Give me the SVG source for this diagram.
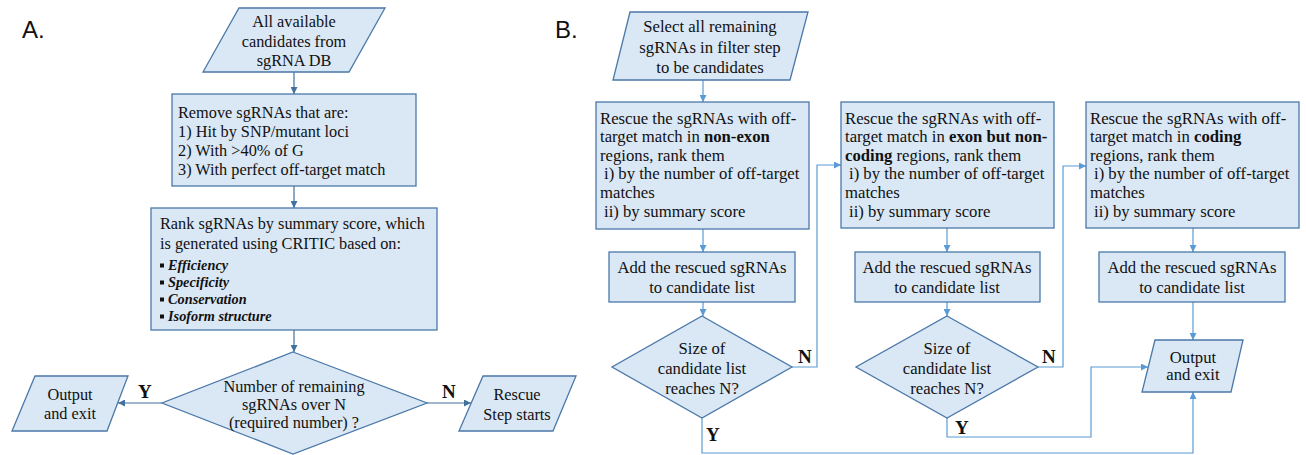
<svg xmlns="http://www.w3.org/2000/svg" width="1306" height="455" viewBox="0 0 1306 455">
<style>
.bx{fill:#dae7f5;stroke:#4a78a8;stroke-width:1.3}
.t{font-family:"Liberation Serif","Times New Roman",serif;font-size:16.3px;fill:#111}
.tb{font-family:"Liberation Serif","Times New Roman",serif;font-size:16.7px;fill:#111}
.c{text-anchor:middle}
.bi{font-family:"Liberation Serif","Times New Roman",serif;font-size:14.3px;font-weight:bold;font-style:italic;fill:#111}
.lb{font-family:"Liberation Serif","Times New Roman",serif;font-size:19px;font-weight:bold;fill:#111}
.pl{font-family:"Liberation Sans",Arial,sans-serif;font-size:24px;fill:#111}
.ca{fill:none;stroke:#41719c;stroke-width:1.2}
.cb{fill:none;stroke:#5b9bd5;stroke-width:1.2}
</style>
<defs>
<marker id="ma" viewBox="0 0 10 10" refX="10" refY="5" markerWidth="7" markerHeight="7" markerUnits="userSpaceOnUse" orient="auto"><path d="M0,0L10,5L0,10z" fill="#41719c"/></marker>
<marker id="mb" viewBox="0 0 10 10" refX="10" refY="5" markerWidth="7" markerHeight="7" markerUnits="userSpaceOnUse" orient="auto"><path d="M0,0L10,5L0,10z" fill="#5b9bd5"/></marker>
</defs>
<text class="pl" x="22" y="38">A.</text>
<text class="pl" x="555" y="38">B.</text>
<g id="connectors">
<path class="ca" d="M294,72V94" marker-end="url(#ma)"/>
<path class="ca" d="M294,186V208" marker-end="url(#ma)"/>
<path class="ca" d="M294,330V352" marker-end="url(#ma)"/>
<path class="ca" d="M162,403H118" marker-end="url(#ma)"/>
<path class="ca" d="M427,403H471" marker-end="url(#ma)"/>
<path class="cb" d="M703,80V102" marker-end="url(#mb)"/>
<path class="cb" d="M703,229V252" marker-end="url(#mb)"/>
<path class="cb" d="M703,302V316" marker-end="url(#mb)"/>
<path class="cb" d="M792,367H817V165H841" marker-end="url(#mb)"/>
<path class="cb" d="M702,418V453H1193V392" marker-end="url(#mb)"/>
<path class="cb" d="M947,228V252" marker-end="url(#mb)"/>
<path class="cb" d="M947,302V316" marker-end="url(#mb)"/>
<path class="cb" d="M1038,367H1063V166H1086" marker-end="url(#mb)"/>
<path class="cb" d="M947,418V437H1091V367H1148" marker-end="url(#mb)"/>
<path class="cb" d="M1193,228V252" marker-end="url(#mb)"/>
<path class="cb" d="M1193,302V340" marker-end="url(#mb)"/>
</g>
<g id="a-start">
<polygon class="bx" points="239,8 385,8 349,72 203,72"/>
<text class="t c" x="294" y="27">All available</text>
<text class="t c" x="294" y="46.5">candidates from</text>
<text class="t c" x="294" y="66">sgRNA DB</text>
</g>
<g id="a-remove">
<rect class="bx" x="172" y="94" width="244" height="92"/>
<text class="t" x="178" y="118">Remove sgRNAs that are:</text>
<text class="t" x="178" y="137">1) Hit by SNP/mutant loci</text>
<text class="t" x="178" y="156">2) With &gt;40% of G</text>
<text class="t" x="178" y="175">3) With perfect off-target match</text>
</g>
<g id="a-rank">
<rect class="bx" x="151" y="208" width="286" height="122"/>
<text class="t" x="160" y="229">Rank sgRNAs by summary score, which</text>
<text class="t" x="160" y="249">is generated using CRITIC based on:</text>
<rect x="160" y="263.5" width="4" height="4" fill="#111"/>
<rect x="160" y="280.5" width="4" height="4" fill="#111"/>
<rect x="160" y="297.5" width="4" height="4" fill="#111"/>
<rect x="160" y="314.5" width="4" height="4" fill="#111"/>
<text class="bi" x="168" y="270">Efficiency</text>
<text class="bi" x="168" y="287">Specificity</text>
<text class="bi" x="168" y="304">Conservation</text>
<text class="bi" x="168" y="321">Isoform structure</text>
</g>
<g id="a-decision">
<polygon class="bx" points="293,352 427,403 293,454 162,403"/>
<text class="t c" x="294" y="392">Number of remaining</text>
<text class="t c" x="294" y="410">sgRNAs over N</text>
<text class="t c" x="294" y="428">(required number) ?</text>
</g>
<text class="lb" x="138" y="398">Y</text>
<text class="lb" x="442" y="398">N</text>
<g id="a-output">
<polygon class="bx" points="35,376 128,376 107,431 12,431"/>
<text class="t c" x="70" y="400">Output</text>
<text class="t c" x="70" y="419">and exit</text>
</g>
<g id="a-rescue">
<polygon class="bx" points="483,376 576,376 553,431 459,431"/>
<text class="t c" x="517" y="399.5">Rescue</text>
<text class="t c" x="517" y="419.5">Step starts</text>
</g>
<g id="b-start">
<polygon class="bx" points="630,12 808,12 790,80 613,80"/>
<text class="tb c" x="710" y="32">Select all remaining</text>
<text class="tb c" x="710" y="53">sgRNAs in filter step</text>
<text class="tb c" x="710" y="73">to be candidates</text>
</g>
<g id="b-rescue1">
<rect class="bx" x="596" y="102" width="213" height="127"/>
<text class="tb" x="600" y="123.5">Rescue the sgRNAs with off-</text>
<text class="tb" x="600" y="142.1">target match in <tspan font-weight="bold">non-exon</tspan></text>
<text class="tb" x="600" y="160.7">regions, rank them</text>
<text class="tb" x="604" y="179.3">i) by the number of off-target</text>
<text class="tb" x="600" y="197.9">matches</text>
<text class="tb" x="604" y="216.5">ii) by summary score</text>
</g>
<g id="b-rescue2">
<rect class="bx" x="841" y="102" width="213" height="126"/>
<text class="tb" x="845" y="123.5">Rescue the sgRNAs with off-</text>
<text class="tb" x="845" y="142.1">target match in <tspan font-weight="bold">exon but non-</tspan></text>
<text class="tb" x="845" y="160.7"><tspan font-weight="bold">coding</tspan> regions, rank them</text>
<text class="tb" x="849" y="179.3">i) by the number of off-target</text>
<text class="tb" x="845" y="197.9">matches</text>
<text class="tb" x="849" y="216.5">ii) by summary score</text>
</g>
<g id="b-rescue3">
<rect class="bx" x="1086" y="102" width="213" height="126"/>
<text class="tb" x="1090" y="123.5">Rescue the sgRNAs with off-</text>
<text class="tb" x="1090" y="142.1">target match in <tspan font-weight="bold">coding</tspan></text>
<text class="tb" x="1090" y="160.7">regions, rank them</text>
<text class="tb" x="1094" y="179.3">i) by the number of off-target</text>
<text class="tb" x="1090" y="197.9">matches</text>
<text class="tb" x="1094" y="216.5">ii) by summary score</text>
</g>
<g id="b-add1">
<rect class="bx" x="609" y="252" width="186" height="50"/>
<text class="tb c" x="702" y="272.5">Add the rescued sgRNAs</text>
<text class="tb c" x="702" y="292.5">to candidate list</text>
</g>
<g id="b-add2">
<rect class="bx" x="855" y="252" width="185" height="50"/>
<text class="tb c" x="947" y="272.5">Add the rescued sgRNAs</text>
<text class="tb c" x="947" y="292.5">to candidate list</text>
</g>
<g id="b-add3">
<rect class="bx" x="1099" y="252" width="186" height="50"/>
<text class="tb c" x="1192" y="272.5">Add the rescued sgRNAs</text>
<text class="tb c" x="1192" y="292.5">to candidate list</text>
</g>
<g id="b-decision1">
<polygon class="bx" points="702,316 792,367 702,418 612,367"/>
<text class="tb c" x="702" y="353.5">Size of</text>
<text class="tb c" x="702" y="373.5">candidate list</text>
<text class="tb c" x="702" y="393.5">reaches N?</text>
</g>
<g id="b-decision2">
<polygon class="bx" points="947,316 1038,367 947,418 856,367"/>
<text class="tb c" x="947" y="353.5">Size of</text>
<text class="tb c" x="947" y="373.5">candidate list</text>
<text class="tb c" x="947" y="393.5">reaches N?</text>
</g>
<text class="lb" x="798" y="363">N</text>
<text class="lb" x="1042" y="363">N</text>
<text class="lb" x="706" y="441">Y</text>
<text class="lb" x="955" y="434">Y</text>
<g id="b-output">
<polygon class="bx" points="1155,340 1243,340 1231,392 1142,392"/>
<text class="tb c" x="1193" y="363">Output</text>
<text class="tb c" x="1193" y="380">and exit</text>
</g>
</svg>
